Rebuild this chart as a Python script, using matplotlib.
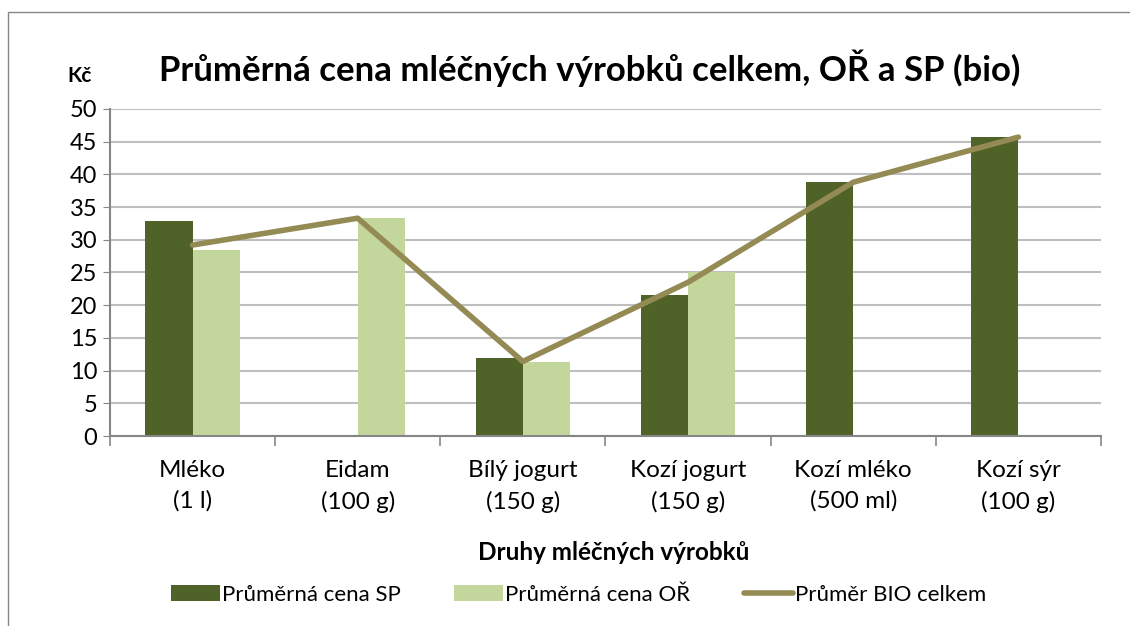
import numpy as np
import matplotlib.pyplot as plt
from matplotlib.patches import Rectangle

plt.rcParams['font.family'] = ['Lato', 'DejaVu Sans']

# values
kategorie = ['Mléko\n(1 l)', 'Eidam\n(100 g)', 'Bílý jogurt\n(150 g)',
             'Kozí jogurt\n(150 g)', 'Kozí mléko\n(500 ml)', 'Kozí sýr\n(100 g)']
cena_sp = [32.9, np.nan, 11.9, 21.6, 38.8, 45.7]
cena_or = [28.4, 33.3, 11.3, 25.1, np.nan, np.nan]
bio_celkem = [29.2, 33.3, 11.4, 23.5, 38.8, 45.7]

fig = plt.figure(figsize=(11.3, 6.26), dpi=100)
ax = fig.add_axes([0.0973, 0.3035, 0.877, 0.5224])

x = np.arange(len(kategorie))
w = 0.286
b1 = ax.bar(x - w/2, cena_sp, w, color='#4F6228', label='Průměrná cena SP', zorder=2)
b2 = ax.bar(x + w/2, cena_or, w, color='#C3D69B', label='Průměrná cena OŘ', zorder=2)
l1, = ax.plot(x, bio_celkem, color='#948A54', lw=4, label='Průměr BIO celkem',
              solid_capstyle='round', zorder=3)

ax.set_xlim(-0.5, len(kategorie) - 0.5)
ax.set_ylim(0, 50)
ax.set_yticks(range(0, 51, 5))
ax.tick_params(axis='y', labelsize=17, length=5, color='#868686', pad=4)
ax.set_xticks(x)
ax.set_xticklabels(kategorie, fontsize=17.5, linespacing=1.55)
ax.tick_params(axis='x', length=0, pad=17)
ax.set_xticks(np.arange(-0.5, len(kategorie)), minor=True)
ax.tick_params(axis='x', which='minor', length=7, color='#868686', width=1.2)
ax.grid(axis='y', color='#BFBFBF', lw=1.5, zorder=0)
for s in ['top', 'right']:
    ax.spines[s].set_visible(False)
for s in ['left', 'bottom']:
    ax.spines[s].set_color('#868686')
    ax.spines[s].set_linewidth(1.5)

fig.text(0.522, 0.891, 'Průměrná cena mléčných výrobků celkem, OŘ a SP (bio)',
         ha='center', va='center', fontsize=25, fontweight='bold')
fig.text(0.06, 0.878, 'Kč', ha='left', va='center', fontsize=15, fontweight='bold')
fig.text(0.543, 0.118, 'Druhy mléčných výrobků', ha='center', va='center',
         fontsize=17.5, fontweight='bold')

fig.legend([b1, b2, l1], ['Průměrná cena SP', 'Průměrná cena OŘ', 'Průměr BIO celkem'],
           loc='center', bbox_to_anchor=(0.512, 0.05), ncol=3, frameon=False,
           fontsize=16, handlelength=2.2, handletextpad=0.1, columnspacing=2.4)

fig.patches.append(Rectangle((8/1130, -0.1), 1.2, 1 - 12/626 + 0.1,
                             transform=fig.transFigure, fill=False,
                             edgecolor='#868686', lw=1))

fig.savefig('out.png', dpi=100)
